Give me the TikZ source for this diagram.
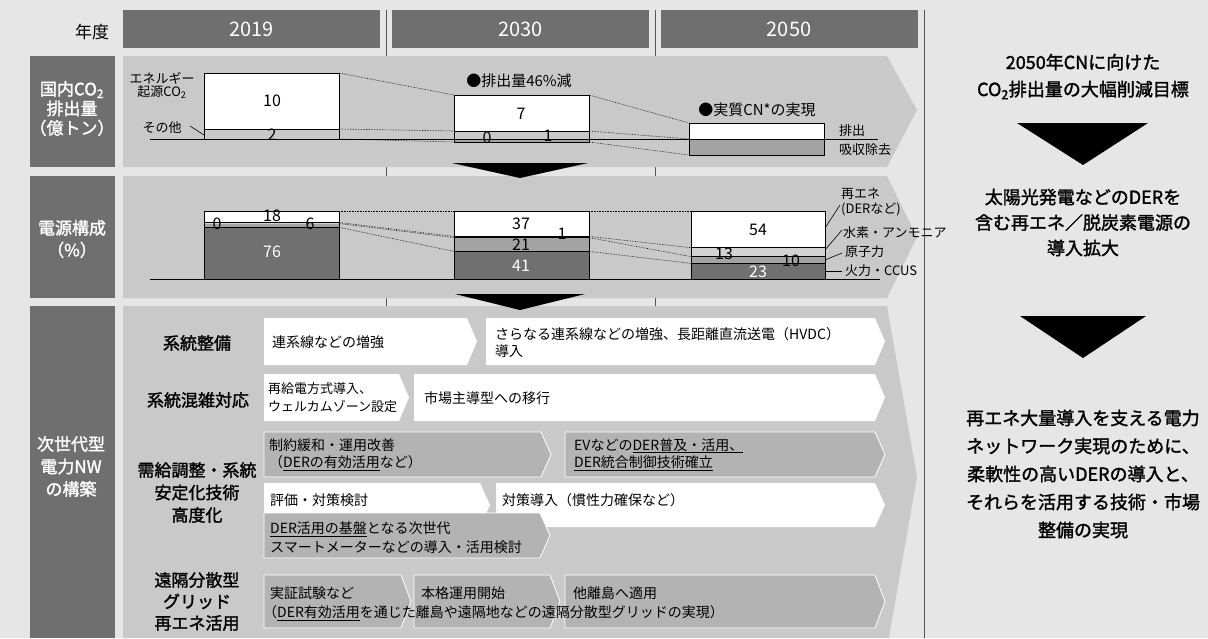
\documentclass[tikz,border=0pt]{standalone}
\usepackage{fontspec}
\setmainfont{Noto Sans CJK JP}
\newfontfamily\mdf{Noto Sans CJK JP}[FakeBold=1.6]
\definecolor{bgc}{HTML}{E6E6E6}
\definecolor{darkc}{HTML}{6F6F6F}
\definecolor{panelc}{HTML}{C9C9C9}
\definecolor{chevg}{HTML}{B3B3B3}
\definecolor{lightb}{HTML}{D2D2D2}
\definecolor{medb}{HTML}{A3A3A3}
\definecolor{darkb}{HTML}{707070}
\definecolor{linec}{HTML}{555555}
\newcommand\mychev[5]{\path[#5] (#1,#3) -- ({#2-10},#3) -- (#2,{(#3+#4)/2}) -- ({#2-10},#4) -- (#1,#4) -- cycle;}
\begin{document}
\begin{tikzpicture}[x=1pt,y=-1pt,
  yearbox/.style={fill=darkc,text=white,minimum width=257pt,minimum height=38pt,inner sep=0pt,font=\fontsize{20}{22}\selectfont},
  hd/.style={inner sep=0pt,font=\fontsize{17}{20}\selectfont},
  lab/.style={text=white,align=center,inner sep=0pt,font=\mdf\fontsize{17}{19.5}\selectfont},
  rowlab/.style={align=center,inner sep=0pt,font=\mdf\fontsize{17}{22.5}\selectfont},
  ctext/.style={anchor=west,align=left,inner sep=0pt,font=\fontsize{14}{18.5}\selectfont},
  rtext/.style={align=center,inner sep=0pt,font=\mdf\fontsize{18}{27}\selectfont},
  small/.style={inner sep=0pt,font=\fontsize{13}{15}\selectfont},
  num/.style={inner sep=0pt,font=\fontsize{16}{18}\selectfont},
  head/.style={inner sep=0pt,font=\fontsize{15}{18}\selectfont},
  dotl/.style={densely dotted,line width=0.6pt,black},
  bar/.style={draw=black,line width=0.8pt},
  wchev/.style={fill=white},
  gchev/.style={fill=chevg,draw=white,line width=0.8pt},
  tri/.style={fill=black},
  vline/.style={draw=linec,line width=0.9pt},
  lead/.style={draw=black,line width=0.6pt}
]
\useasboundingbox (0,0) rectangle (1208,638);
\fill[bgc] (0,0) rectangle (1208,638);
% vertical guide lines
\coordinate (v1t) at (386,10); \coordinate (v1b) at (386,638);
\coordinate (v2t) at (655,10); \coordinate (v2b) at (655,638);
\coordinate (v3t) at (924,10); \coordinate (v3b) at (924,638);
\draw[vline] (v1t) -- (v1b);
\draw[vline] (v2t) -- (v2b);
\draw[vline] (v3t) -- (v3b);
% header
\node[yearbox] (y19) at (251.5,29) {2019};
\node[yearbox] (y30) at (520.5,29) {2030};
\node[yearbox] (y50) at (789,29) {2050};
\node[hd] (nendo) at (92,32) {年度};
% left label boxes
\fill[darkc] (30,56) rectangle (115,167);
\fill[darkc] (30,176) rectangle (115,298);
\fill[darkc] (30,306) rectangle (115,638);
% panels
\fill[panelc] (123,56) -- (887,56) -- (917,110) -- (887,167) -- (123,167) -- cycle;
\fill[panelc] (123,176) -- (887,176) -- (917,237) -- (887,298) -- (123,298) -- cycle;
\fill[panelc] (123,306) -- (887,306) -- (917,477) -- (888.8,638) -- (123,638) -- cycle;
% ---------- row 1 bars ----------
\fill[white] (204,73) rectangle (339,129);
\fill[panelc] (204,129) rectangle (339,139);
\draw[bar] (204,73) rectangle (339,139);
\draw[bar] (204,129) -- (339,129);
\fill[white] (454,95) rectangle (589,131);
\fill[panelc] (454,131) rectangle (589,139);
\fill[medb] (454,139) rectangle (589,142);
\draw[bar] (454,95) rectangle (589,142);
\draw[bar] (454,131) -- (589,131);
\fill[white] (689,123) rectangle (824,139);
\fill[medb] (689,139) rectangle (824,155);
\draw[bar] (689,123) rectangle (824,155);
\coordinate (bl1a) at (150,139); \coordinate (bl1b) at (878,139);
\draw[bar] (bl1a) -- (bl1b);
\coordinate (a19t) at (339,73); \coordinate (a19m) at (339,129); \coordinate (a19b) at (339,139);
\coordinate (a30tl) at (454,95); \coordinate (a30ml) at (454,131); \coordinate (a30bl) at (454,142);
\coordinate (a30tr) at (589,95); \coordinate (a30mr) at (589,131); \coordinate (a30br) at (589,142);
\coordinate (a50t) at (689,123); \coordinate (a50m) at (689,139); \coordinate (a50b) at (689,155);
\draw[dotl] (a19t) -- (a30tl);
\draw[dotl] (a19m) -- (a30ml);
\draw[dotl] (a19b) -- (a30bl);
\draw[dotl] (a30tr) -- (a50t);
\draw[dotl] (a30mr) -- (a50m);
\draw[dotl] (a30br) -- (a50b);
\coordinate (sonoA) at (190,126); \coordinate (sonoB) at (204,135);
\draw[lead] (sonoA) -- (sonoB);
% ---------- row 2 bars ----------
\fill[white] (204,211) rectangle (339,222.5);
\fill[lightb] (204,222.5) rectangle (339,223.5);
\fill[medb] (204,223.5) rectangle (339,227.3);
\fill[darkb] (204,227.3) rectangle (339,279);
\draw[bar] (204,211) rectangle (339,279);
\draw[bar] (204,222.5) -- (339,222.5);
\draw[bar] (204,227.3) -- (339,227.3);
\fill[white] (454,211) rectangle (589,236.4);
\fill[black] (454,236.4) rectangle (589,237.6);
\fill[medb] (454,237.6) rectangle (589,251.4);
\fill[darkb] (454,251.4) rectangle (589,279);
\draw[bar] (454,211) rectangle (589,279);
\draw[bar] (454,251.4) -- (589,251.4);
\fill[white] (691,211) rectangle (825,247.7);
\fill[lightb] (691,247.7) rectangle (825,256.6);
\fill[medb] (691,256.6) rectangle (825,263.4);
\fill[darkb] (691,263.4) rectangle (825,279);
\draw[bar] (691,211) rectangle (825,279);
\draw[bar] (691,247.7) -- (825,247.7);
\draw[bar] (691,256.6) -- (825,256.6);
\draw[bar] (691,263.4) -- (825,263.4);
\coordinate (bl2a) at (150,279); \coordinate (bl2b) at (880,279);
\draw[bar] (bl2a) -- (bl2b);
\coordinate (p19t) at (339,211); \coordinate (p19w) at (339,222.5); \coordinate (p19h) at (339,223.5); \coordinate (p19n) at (339,227.3);
\coordinate (p30tl) at (454,211); \coordinate (p30wl) at (454,236.4); \coordinate (p30hl) at (454,237.6); \coordinate (p30nl) at (454,251.4);
\coordinate (p30tr) at (589,211); \coordinate (p30wr) at (589,236.4); \coordinate (p30hr) at (589,237.6); \coordinate (p30nr) at (589,251.4);
\coordinate (p50t) at (691,211); \coordinate (p50w) at (691,247.7); \coordinate (p50h) at (691,256.6); \coordinate (p50n) at (691,263.4);
\draw[dotl] (p19t) -- (p30tl);
\draw[dotl] (p19w) -- (p30wl);
\draw[dotl] (p19h) -- (p30hl);
\draw[dotl] (p19n) -- (p30nl);
\draw[dotl] (p30tr) -- (p50t);
\draw[dotl] (p30wr) -- (p50w);
\draw[dotl] (p30hr) -- (p50h);
\draw[dotl] (p30nr) -- (p50n);
% legend leaders
\coordinate (l1a) at (825,228); \coordinate (l1b) at (840,205);
\coordinate (l2a) at (825,250); \coordinate (l2b) at (842,230);
\coordinate (l3a) at (825,260); \coordinate (l3b) at (842,253);
\coordinate (l4a) at (825,271); \coordinate (l4b) at (842,271);
\draw[lead] (l1a) -- (l1b);
\draw[lead] (l2a) -- (l2b);
\draw[lead] (l3a) -- (l3b);
\draw[lead] (l4a) -- (l4b);
% ---------- row 3 chevrons ----------
\mychev{264}{477}{318}{365}{wchev}
\mychev{486}{885}{318}{365}{wchev}
\mychev{264}{409}{374}{421}{wchev}
\mychev{414}{885}{374}{421}{wchev}
\mychev{264}{551}{432}{477}{gchev}
\mychev{565}{885}{432}{477}{gchev}
\mychev{264}{490}{483}{527}{wchev}
\mychev{496}{885}{483}{527}{wchev}
\mychev{264}{550}{513}{558}{gchev}
\mychev{264}{411}{575}{628}{gchev}
\mychev{414}{560}{575}{628}{gchev}
\mychev{565}{885}{575}{628}{gchev}
% triangles
\fill[tri] (452,163) -- (588,163) -- (520,178) -- cycle;
\fill[tri] (455,294) -- (585,294) -- (520,310) -- cycle;
\fill[tri] (1017,123) -- (1148,123) -- (1083,165) -- cycle;
\fill[tri] (1020,316) -- (1146,316) -- (1083,358) -- cycle;
% ---------- texts ----------
\node[lab] (lb1) at (72,108.5) {国内CO\textsubscript{2}\\排出量\\（億トン）};
\node[lab,font=\mdf\fontsize{17}{22}\selectfont] (lb2) at (72,239) {電源構成\\（\%）};
\node[lab,font=\mdf\fontsize{17}{22.5}\selectfont] (lb3) at (71,466.5) {次世代型\\電力NW\\の構築};
% row 1 texts
\node[small] (ene) at (162,78) {エネルギー};
\node[small] (kigen) at (162,92) {起源CO\textsubscript{2}};
\node[small] (sono) at (162,128) {その他};
\node[num] (n10) at (272,101) {10};
\node[num] (n2) at (272,135) {2};
\node[num] (n7) at (521,114) {7};
\node[num] (n0a) at (487,138) {0};
\node[num] (n1a) at (548,136) {1};
\node[head] (h46) at (519,81) {●排出量46\%減};
\node[head] (hcn) at (757,110) {●実質CN*の実現};
\node[small,anchor=west] (haishutsu) at (839,131) {排出};
\node[small,anchor=west] (kyushu) at (839,150) {吸収除去};
% row 2 texts
\node[num] (n18) at (272,216) {18};
\node[num] (n0b) at (217,224) {0};
\node[num] (n6) at (310,224) {6};
\node[num,text=white] (n76) at (272,252) {76};
\node[num] (n37) at (521,224) {37};
\node[num] (n1b) at (562,234) {1};
\node[num] (n21) at (521,245) {21};
\node[num,text=white] (n41) at (521,266) {41};
\node[num] (n54) at (758,230) {54};
\node[num] (n13) at (724,254) {13};
\node[num] (n10b) at (791,261) {10};
\node[num,text=white] (n23) at (758,272) {23};
\node[small,anchor=west,align=left] (lgre) at (841,202) {再エネ\\(DERなど)};
\node[small,anchor=west] (lgh) at (843,233) {水素・アンモニア};
\node[small,anchor=west] (lgn) at (845,252) {原子力};
\node[small,anchor=west] (lgf) at (845,271) {火力・CCUS};
% row 3 labels
\node[rowlab] (rl1) at (197,343) {系統整備};
\node[rowlab] (rl2) at (198,400) {系統混雑対応};
\node[rowlab] (rl3) at (197,492.5) {需給調整・系統\\安定化技術\\高度化};
\node[rowlab,font=\mdf\fontsize{17}{21.5}\selectfont] (rl4) at (197,601.5) {遠隔分散型\\グリッド\\再エネ活用};
% chevron texts
\node[ctext] (c1a) at (272,342) {連系線などの増強};
\node[ctext,font=\fontsize{14}{17}\selectfont] (c1b) at (495,343) {さらなる連系線などの増強、長距離直流送電（HVDC）\\導入};
\node[ctext,font=\fontsize{13}{18}\selectfont] (c2a) at (268,398) {再給電方式導入、\\ウェルカムゾーン設定};
\node[ctext] (c2b) at (424,398) {市場主導型への移行};
\node[ctext,font=\fontsize{14}{17.5}\selectfont] (c3a) at (269,454.5) {制約緩和・運用改善\\（\underline{DERの有効活用}など）};
\node[ctext,font=\fontsize{14}{17.5}\selectfont] (c3b) at (574,454.5) {EVなどの\underline{DER普及・活用、}\\\underline{DER統合制御技術確立}};
\node[ctext] (c4a) at (270,500) {評価・対策検討};
\node[ctext] (c4b) at (502,500) {対策導入（慣性力確保など）};
\node[ctext] (c4c) at (270,537.5) {\underline{DER活用の基盤}となる次世代\\スマートメーターなどの導入・活用検討};
\node[ctext] (c5a) at (270,593) {実証試験など};
\node[ctext] (c5b) at (421,593) {本格運用開始};
\node[ctext] (c5c) at (573,593) {他離島へ適用};
\node[ctext] (c5d) at (263,613) {（\underline{DER有効活用}を通じた離島や遠隔地などの遠隔分散型グリッドの実現）};
% right column
\node[rtext] (rt1) at (1083,76.5) {2050年CNに向けた\\CO\textsubscript{2}排出量の大幅削減目標};
\node[rtext,font=\mdf\fontsize{18}{25.5}\selectfont] (rt2) at (1083,222.5) {太陽光発電などのDERを\\含む再エネ／脱炭素電源の\\導入拡大};
\node[rtext,font=\mdf\fontsize{18}{28}\selectfont] (rt3) at (1083,474) {再エネ大量導入を支える電力\\ネットワーク実現のために、\\柔軟性の高いDERの導入と、\\それらを活用する技術・市場\\整備の実現};
\end{tikzpicture}
\end{document}
